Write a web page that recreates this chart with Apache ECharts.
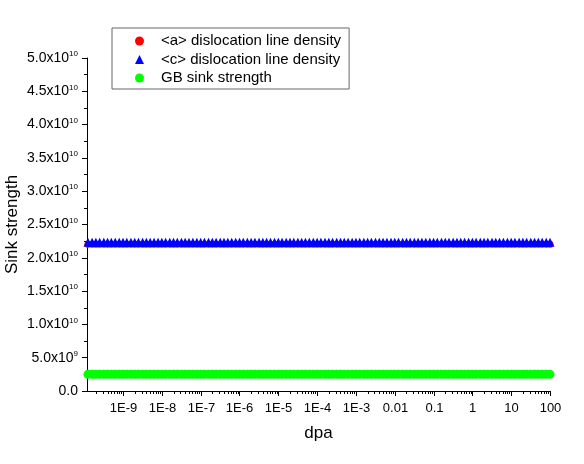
<!DOCTYPE html>
<html><head><meta charset="utf-8">
<script src="https://cdn.jsdelivr.net/npm/echarts@6/dist/echarts.min.js"></script>
<style>html,body{margin:0;padding:0;background:#fff}#c{width:584px;height:464px}</style>
</head><body><div id="c"></div>
<script>
// x values (dpa)
var dpa = [
1.25e-10,1.6e-10,2e-10,2.5e-10,3.2e-10,4e-10,5e-10,6.3e-10,8e-10,
1e-9,1.25e-9,1.6e-9,2e-9,2.5e-9,3.2e-9,4e-9,5e-9,6.3e-9,8e-9,
1e-8,1.25e-8,1.6e-8,2e-8,2.5e-8,3.2e-8,4e-8,5e-8,6.3e-8,8e-8,
1e-7,1.25e-7,1.6e-7,2e-7,2.5e-7,3.2e-7,4e-7,5e-7,6.3e-7,8e-7,
1e-6,1.25e-6,1.6e-6,2e-6,2.5e-6,3.2e-6,4e-6,5e-6,6.3e-6,8e-6,
1e-5,1.25e-5,1.6e-5,2e-5,2.5e-5,3.2e-5,4e-5,5e-5,6.3e-5,8e-5,
1e-4,1.25e-4,1.6e-4,2e-4,2.5e-4,3.2e-4,4e-4,5e-4,6.3e-4,8e-4,
1e-3,1.25e-3,1.6e-3,2e-3,2.5e-3,3.2e-3,4e-3,5e-3,6.3e-3,8e-3,
0.01,0.0125,0.016,0.02,0.025,0.032,0.04,0.05,0.063,0.08,
0.1,0.125,0.16,0.2,0.25,0.32,0.4,0.5,0.63,0.8,
1,1.25,1.6,2,2.5,3.2,4,5,6.3,8,
10,12.5,16,20,25,32,40,50,63,80,
100];
// <a> dislocation line density
var aDensity = [
2.205e10,2.205e10,2.205e10,2.205e10,2.205e10,2.205e10,2.205e10,2.205e10,2.205e10,
2.205e10,2.205e10,2.205e10,2.205e10,2.205e10,2.205e10,2.205e10,2.205e10,2.205e10,2.205e10,
2.205e10,2.205e10,2.205e10,2.205e10,2.205e10,2.205e10,2.205e10,2.205e10,2.205e10,2.205e10,
2.205e10,2.205e10,2.205e10,2.205e10,2.205e10,2.205e10,2.205e10,2.205e10,2.205e10,2.205e10,
2.205e10,2.205e10,2.205e10,2.205e10,2.205e10,2.205e10,2.205e10,2.205e10,2.205e10,2.205e10,
2.205e10,2.205e10,2.205e10,2.205e10,2.205e10,2.205e10,2.205e10,2.205e10,2.205e10,2.205e10,
2.205e10,2.205e10,2.205e10,2.205e10,2.205e10,2.205e10,2.205e10,2.205e10,2.205e10,2.205e10,
2.205e10,2.205e10,2.205e10,2.205e10,2.205e10,2.205e10,2.205e10,2.205e10,2.205e10,2.205e10,
2.205e10,2.205e10,2.205e10,2.205e10,2.205e10,2.205e10,2.205e10,2.205e10,2.205e10,2.205e10,
2.205e10,2.205e10,2.205e10,2.205e10,2.205e10,2.205e10,2.205e10,2.205e10,2.205e10,2.205e10,
2.205e10,2.205e10,2.205e10,2.205e10,2.205e10,2.205e10,2.205e10,2.205e10,2.205e10,2.205e10,
2.205e10,2.205e10,2.205e10,2.205e10,2.205e10,2.205e10,2.205e10,2.205e10,2.205e10,2.205e10,
2.205e10];
// <c> dislocation line density
var cDensity = [
2.235e10,2.235e10,2.235e10,2.235e10,2.235e10,2.235e10,2.235e10,2.235e10,2.235e10,
2.235e10,2.235e10,2.235e10,2.235e10,2.235e10,2.235e10,2.235e10,2.235e10,2.235e10,2.235e10,
2.235e10,2.235e10,2.235e10,2.235e10,2.235e10,2.235e10,2.235e10,2.235e10,2.235e10,2.235e10,
2.235e10,2.235e10,2.235e10,2.235e10,2.235e10,2.235e10,2.235e10,2.235e10,2.235e10,2.235e10,
2.235e10,2.235e10,2.235e10,2.235e10,2.235e10,2.235e10,2.235e10,2.235e10,2.235e10,2.235e10,
2.235e10,2.235e10,2.235e10,2.235e10,2.235e10,2.235e10,2.235e10,2.235e10,2.235e10,2.235e10,
2.235e10,2.235e10,2.235e10,2.235e10,2.235e10,2.235e10,2.235e10,2.235e10,2.235e10,2.235e10,
2.235e10,2.235e10,2.235e10,2.235e10,2.235e10,2.235e10,2.235e10,2.235e10,2.235e10,2.235e10,
2.235e10,2.235e10,2.235e10,2.235e10,2.235e10,2.235e10,2.235e10,2.235e10,2.235e10,2.235e10,
2.235e10,2.235e10,2.235e10,2.235e10,2.235e10,2.235e10,2.235e10,2.235e10,2.235e10,2.235e10,
2.235e10,2.235e10,2.235e10,2.235e10,2.235e10,2.235e10,2.235e10,2.235e10,2.235e10,2.235e10,
2.235e10,2.235e10,2.235e10,2.235e10,2.235e10,2.235e10,2.235e10,2.235e10,2.235e10,2.235e10,
2.235e10];
// GB sink strength
var gbSink = [
2.5e9,2.5e9,2.5e9,2.5e9,2.5e9,2.5e9,2.5e9,2.5e9,2.5e9,
2.5e9,2.5e9,2.5e9,2.5e9,2.5e9,2.5e9,2.5e9,2.5e9,2.5e9,2.5e9,
2.5e9,2.5e9,2.5e9,2.5e9,2.5e9,2.5e9,2.5e9,2.5e9,2.5e9,2.5e9,
2.5e9,2.5e9,2.5e9,2.5e9,2.5e9,2.5e9,2.5e9,2.5e9,2.5e9,2.5e9,
2.5e9,2.5e9,2.5e9,2.5e9,2.5e9,2.5e9,2.5e9,2.5e9,2.5e9,2.5e9,
2.5e9,2.5e9,2.5e9,2.5e9,2.5e9,2.5e9,2.5e9,2.5e9,2.5e9,2.5e9,
2.5e9,2.5e9,2.5e9,2.5e9,2.5e9,2.5e9,2.5e9,2.5e9,2.5e9,2.5e9,
2.5e9,2.5e9,2.5e9,2.5e9,2.5e9,2.5e9,2.5e9,2.5e9,2.5e9,2.5e9,
2.5e9,2.5e9,2.5e9,2.5e9,2.5e9,2.5e9,2.5e9,2.5e9,2.5e9,2.5e9,
2.5e9,2.5e9,2.5e9,2.5e9,2.5e9,2.5e9,2.5e9,2.5e9,2.5e9,2.5e9,
2.5e9,2.5e9,2.5e9,2.5e9,2.5e9,2.5e9,2.5e9,2.5e9,2.5e9,2.5e9,
2.5e9,2.5e9,2.5e9,2.5e9,2.5e9,2.5e9,2.5e9,2.5e9,2.5e9,2.5e9,
2.5e9];
var seriesNames = ['<a> dislocation line density','<c> dislocation line density','GB sink strength'];
var xTickValues = [1e-9,1e-8,1e-7,1e-6,1e-5,1e-4,1e-3,0.01,0.1,1,10,100];
var xTickLabels = ['1E-9','1E-8','1E-7','1E-6','1E-5','1E-4','1E-3','0.01','0.1','1','10','100'];
var yTickLabels = [['0.0',''],['5.0x10','9'],['1.0x10','10'],['1.5x10','10'],['2.0x10','10'],['2.5x10','10'],['3.0x10','10'],['3.5x10','10'],['4.0x10','10'],['4.5x10','10'],['5.0x10','10']];

var xMin = 1.18e-10, xMax = 100;
var font = '"Liberation Sans", Arial, sans-serif';
// x-axis tick marks: majors (with labels) and minors 2..9 per decade
var xTicks = [];
for (var i = 0; i < xTickValues.length; i++) xTicks.push([xTickValues[i], 1, i]);
for (var e = -10; e <= 1; e++) {
  for (var m = 2; m <= 9; m++) {
    var v = m * Math.pow(10, e);
    if (v >= xMin && v <= xMax) xTicks.push([v, 0, -1]);
  }
}

function pair(y){ return dpa.map(function(x,i){ return [x, y[i]]; }); }

var chart = echarts.init(document.getElementById('c'), null, {renderer:'canvas'});
chart.setOption({
  animation: false,
  backgroundColor: '#fff',
  textStyle: {fontFamily: font},
  grid: {left: 87, right: 34, top: 58, bottom: 73, containLabel: false, outerBoundsMode: 'none'},
  legend: {
    orient: 'vertical', left: 112, top: 28, align: 'left',
    padding: [5, 8, 3, 23], itemGap: 2.5, itemWidth: 9, itemHeight: 9,
    borderColor: '#666', borderWidth: 1,
    textStyle: {fontFamily: font, fontSize: 15, color: '#000', lineHeight: 16, padding: [0,0,0,12]},
    data: [
      {name: seriesNames[0], icon: 'circle'},
      {name: seriesNames[1], icon: 'triangle'},
      {name: seriesNames[2], icon: 'circle'}
    ]
  },
  xAxis: {
    type: 'log', logBase: 10, min: xMin, max: xMax,
    name: 'dpa', nameLocation: 'middle', nameGap: 34, nameMoveOverlap: false,
    nameTextStyle: {fontFamily: font, fontSize: 17, color: '#000'},
    axisLine: {show: true, lineStyle: {color: '#000', width: 1}},
    axisTick: {show: false},
    splitLine: {show: false},
    axisLabel: {show: false}
  },
  yAxis: {
    type: 'value', min: 0, max: 5e10, interval: 5e9,
    name: 'Sink strength', nameLocation: 'middle', nameGap: 66, nameMoveOverlap: false,
    nameTextStyle: {fontFamily: font, fontSize: 17, color: '#000'},
    axisLine: {show: true, lineStyle: {color: '#000', width: 1}},
    axisTick: {show: true, length: 5, lineStyle: {color: '#000'}},
    minorTick: {show: true, splitNumber: 2, length: 3, lineStyle: {color: '#000'}},
    splitLine: {show: false},
    axisLabel: {
      margin: 9, color: '#000',
      formatter: function(v){
        var t = yTickLabels[Math.round(v / 5e9)];
        return t[1] ? '{a|' + t[0] + '}{s|' + t[1] + '}' : '{a|' + t[0] + '}';
      },
      rich: {
        a: {fontSize: 14, fontFamily: font, color: '#000'},
        s: {fontSize: 8, fontFamily: font, color: '#000', verticalAlign: 'bottom', padding: [0,0,8,0]}
      }
    }
  },
  series: [
    {name: seriesNames[0], type: 'scatter', symbol: 'circle', symbolSize: 7,
     itemStyle: {color: '#ff0000', opacity: 1}, data: pair(aDensity), z: 2},
    {name: seriesNames[1], type: 'scatter', symbol: 'triangle', symbolSize: 9,
     itemStyle: {color: '#0000ff', opacity: 1}, data: pair(cDensity), z: 3},
    {name: seriesNames[2], type: 'scatter', symbol: 'circle', symbolSize: 9,
     itemStyle: {color: '#00ff00', opacity: 1}, data: pair(gbSink), z: 4},
    {name: 'xticks', type: 'custom', silent: true, clip: false, z: 10,
     data: xTicks,
     renderItem: function(params, api){
       var p = api.coord([api.value(0), 0]);
       var major = api.value(1) === 1;
       var x = Math.round(p[0]) + 0.5;
       var children = [{type: 'line', shape: {x1: x, y1: p[1], x2: x, y2: p[1] + (major ? 5 : 3)},
                        style: {stroke: '#000', lineWidth: 1}}];
       if (major) {
         children.push({type: 'text', x: x, y: p[1] + 11,
           style: {text: xTickLabels[api.value(2)], align: 'center', verticalAlign: 'top',
                   font: '13px "Liberation Sans", Arial, sans-serif', fill: '#000'}});
       }
       return {type: 'group', children: children};
     }}
  ]
});
</script></body></html>
